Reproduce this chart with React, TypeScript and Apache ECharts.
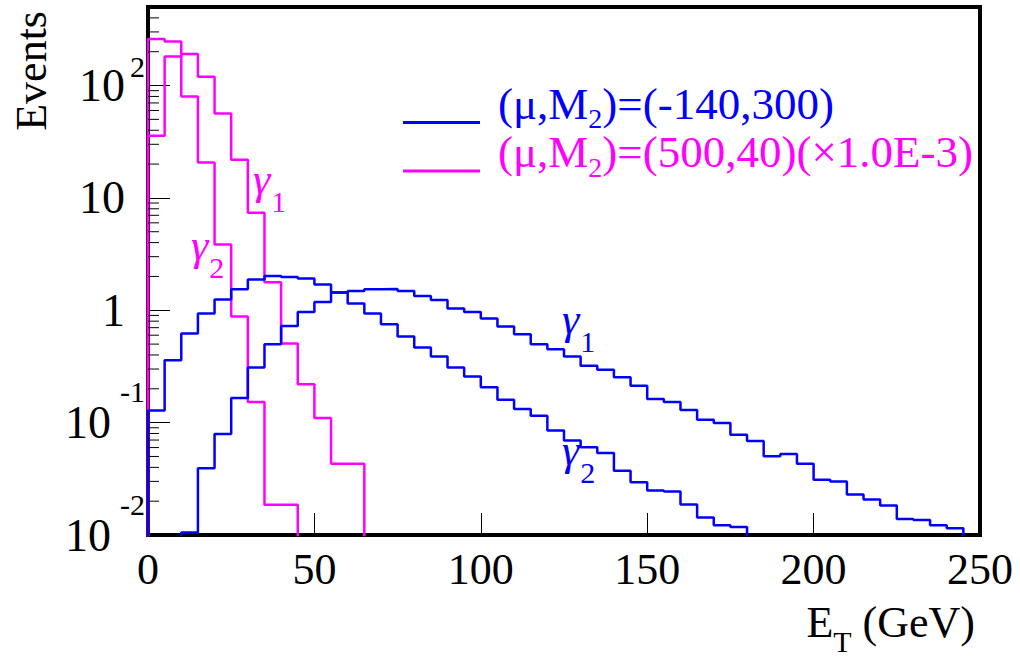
import React, { useEffect, useRef } from 'react';
import * as echarts from 'echarts';

// ---------------- data ----------------
const BIN_WIDTH = 5; // GeV
const FLOOR = 1e-4; // empty bins drawn below the visible range of the log axis

const X_MIN = 0;
const X_MAX = 250;
const X_INTERVAL = 50;
const Y_MIN = 0.01;
const Y_MAX = 500;

const BLUE_NAME = '(μ,M2)=(-140,300)';
const MAGENTA_NAME = '(μ,M2)=(500,40)(×1.0E-3)';

// bin contents, first bin starts at 0 GeV, 5 GeV bins
const blueGamma1 = [
  0, 0, 0.0105, 0.0393, 0.0793, 0.166, 0.31, 0.499, 0.726, 0.966,
  1.185, 1.436, 1.483, 1.536, 1.55, 1.483, 1.339, 1.234, 1.035, 0.966,
  0.844, 0.717, 0.612, 0.499, 0.451, 0.388, 0.32, 0.295, 0.253, 0.213,
  0.162, 0.1525, 0.1295, 0.106, 0.0993, 0.0782, 0.0687, 0.0502, 0.0527, 0.043,
  0.031, 0.0299, 0.0229, 0.0207, 0.0183, 0.0139, 0.0136, 0.0122, 0.0115,
];
const blueGamma2 = [
  0.128, 0.36, 0.62, 0.935, 1.25, 1.54, 1.88, 2.02, 1.98, 1.92,
  1.7, 1.44, 1.15, 0.935, 0.751, 0.584, 0.467, 0.388, 0.31, 0.258,
  0.206, 0.16, 0.132, 0.115, 0.0849, 0.0692, 0.0604, 0.0538, 0.0374, 0.0295,
  0.0249, 0.0244, 0.0187, 0.0143, 0.0122, 0.0118,
];
const magentaGamma1 = [35.8, 181, 191, 120, 56.4, 21.9, 7.37, 1.78, 0.506, 0.22, 0.11, 0.043, 0.043];
const magentaGamma2 = [260, 246, 80, 20.7, 3.85, 0.88, 0.153, 0.0186, 0.0186];

const minorMultipliers = [2, 3, 4, 5, 6, 7, 8, 9];
const decades = [-2, -1, 0, 1, 2];

// ---------------- styles ----------------
const FONT = '"Liberation Serif", "Times New Roman", serif';
const BLUE = '#0000ff';
const MAGENTA = '#ff00ff';

function histPoints(values: number[]): [number, number][] {
  const pts: [number, number][] = [[0, FLOOR]];
  values.forEach((v, i) => pts.push([i * BIN_WIDTH, v > 0 ? v : FLOOR]));
  const end = values.length * BIN_WIDTH;
  const last = values[values.length - 1];
  pts.push([end, last > 0 ? last : FLOOR]);
  pts.push([end, FLOOR]);
  return pts;
}

function minorTickValues(): number[] {
  const out: number[] = [];
  decades.forEach((d) => {
    minorMultipliers.forEach((m) => {
      const v = m * Math.pow(10, d);
      if (v < Y_MAX) out.push(v);
    });
  });
  return out;
}

function gammaLabel(x: number, y: number, sub: string, color: string) {
  return {
    type: 'text',
    x,
    y,
    silent: true,
    style: {
      text: `{g|γ}{s|${sub}}`,
      fill: color,
      verticalAlign: 'middle',
      align: 'left',
      fontFamily: FONT,
      fontSize: 44,
      rich: {
        g: { fontSize: 44, fontFamily: FONT, fontStyle: 'italic', fill: color },
        s: { fontSize: 30, fontFamily: FONT, fill: color, padding: [44, 0, 0, 1] },
      },
    },
  };
}

function legendRich(color: string, prefix: string) {
  return {
    [prefix + 't0']: { fontSize: 45, fontFamily: FONT, color, padding: [0, 0, 38, 13] },
    [prefix + 't']: { fontSize: 45, fontFamily: FONT, color, padding: [0, 0, 38, 0] },
    [prefix + 's']: { fontSize: 28, fontFamily: FONT, color, padding: [28, 0, 36, 0] },
  };
}

export default function App() {
  const ref = useRef<HTMLDivElement>(null);

  useEffect(() => {
    if (!ref.current) return;
    const chart = echarts.init(ref.current, null, { renderer: 'svg' });

    const option: any = {
      animation: false,
      backgroundColor: '#ffffff',
      grid: {
        left: 148,
        right: 40,
        top: 7,
        bottom: 128,
        show: true,
        borderColor: '#000',
        borderWidth: 4,
        backgroundColor: 'transparent',
        containLabel: false,
        outerBoundsMode: 'none',
      },
      legend: {
        left: 398,
        top: 76,
        orient: 'vertical',
        itemGap: -3,
        itemWidth: 77,
        itemHeight: 3,
        icon: 'rect',
        selectedMode: false,
        data: [BLUE_NAME, MAGENTA_NAME],
        formatter: (name: string) => {
          const p = name === BLUE_NAME ? 'b' : 'm';
          const idx = name.indexOf('M2');
          return `{${p}t0|${name.slice(0, idx + 1)}}{${p}s|2}{${p}t|${name.slice(idx + 2)}}`;
        },
        textStyle: {
          fontSize: 45,
          fontFamily: FONT,
          rich: { ...legendRich(BLUE, 'b'), ...legendRich(MAGENTA, 'm') },
        },
      },
      xAxis: {
        type: 'value',
        min: X_MIN,
        max: X_MAX,
        interval: X_INTERVAL,
        axisLine: { show: true, lineStyle: { color: '#000', width: 4 } },
        axisTick: { show: true, inside: true, length: 22, lineStyle: { color: '#000', width: 1 } },
        splitLine: { show: false },
        axisLabel: { show: true, margin: 12, color: '#000', fontSize: 44, fontFamily: FONT },
        name: '{e|E}{s|T}{e| (GeV)}',
        nameLocation: 'end',
        nameGap: -5,
        nameTextStyle: {
          align: 'right',
          verticalAlign: 'top',
          padding: [53, 0, 0, 0],
          fontFamily: FONT,
          fontSize: 44,
          color: '#000',
          rich: {
            e: { fontSize: 44, fontFamily: FONT, color: '#000' },
            s: { fontSize: 30, fontFamily: FONT, color: '#000', padding: [38, 0, 0, 0] },
          },
        },
      },
      yAxis: {
        type: 'log',
        logBase: 10,
        min: Y_MIN,
        max: Y_MAX,
        axisLine: { show: true, lineStyle: { color: '#000', width: 4 } },
        axisTick: { show: true, inside: true, length: 22, lineStyle: { color: '#000', width: 1 } },
        splitLine: { show: false },
        minorTick: { show: false },
        axisLabel: {
          show: true,
          margin: 3,
          color: '#000',
          fontFamily: FONT,
          fontSize: 46,
          showMaxLabel: false,
          formatter: (v: number) => {
            const lg = Math.log10(v);
            const e = Math.round(lg);
            if (Math.abs(lg - e) > 1e-6) return '';
            if (e === 0) return '{p|1}';
            if (e === 1) return '{p|10}';
            if (e > 1) return `{b|10}{ep|${e}}`;
            return `{b|10}{en|${e}}`;
          },
          rich: {
            b: { fontSize: 46, fontFamily: FONT, color: '#000' },
            p: { fontSize: 46, fontFamily: FONT, color: '#000', padding: [0, 20, 0, 0] },
            ep: { fontSize: 30, fontFamily: FONT, color: '#000', padding: [0, 0, 38, 5] },
            en: { fontSize: 30, fontFamily: FONT, color: '#000', padding: [0, 0, 62, 9] },
          },
        },
        name: 'Events',
        nameLocation: 'end',
        nameRotate: 90,
        nameGap: 0,
        nameTextStyle: {
          align: 'right',
          verticalAlign: 'bottom',
          padding: [0, 4, 95, 0],
          fontFamily: FONT,
          fontSize: 44,
          color: '#000',
        },
      },
      series: [
        {
          type: 'line',
          name: MAGENTA_NAME,
          data: histPoints(magentaGamma2),
          step: 'end',
          symbol: 'none',
          silent: true,
          color: MAGENTA,
          lineStyle: { color: MAGENTA, width: 2.5 },
          itemStyle: { color: MAGENTA },
          z: 3,
        },
        {
          type: 'line',
          name: MAGENTA_NAME,
          data: histPoints(magentaGamma1),
          step: 'end',
          symbol: 'none',
          silent: true,
          color: MAGENTA,
          lineStyle: { color: MAGENTA, width: 2.5 },
          itemStyle: { color: MAGENTA },
          z: 3,
        },
        {
          type: 'line',
          name: BLUE_NAME,
          data: histPoints(blueGamma2),
          step: 'end',
          symbol: 'none',
          silent: true,
          color: BLUE,
          lineStyle: { color: BLUE, width: 2.5 },
          itemStyle: { color: BLUE },
          z: 4,
        },
        {
          type: 'line',
          name: BLUE_NAME,
          data: histPoints(blueGamma1),
          step: 'end',
          symbol: 'none',
          silent: true,
          color: BLUE,
          lineStyle: { color: BLUE, width: 2.5 },
          itemStyle: { color: BLUE },
          z: 4,
        },
        {
          type: 'custom',
          name: 'minorTicks',
          silent: true,
          clip: false,
          z: 5,
          data: minorTickValues().map((v) => [X_MIN, v]),
          renderItem: (_params: any, api: any) => {
            const p = api.coord([X_MIN, api.value(1)]);
            return {
              type: 'line',
              shape: { x1: p[0], y1: p[1], x2: p[0] + 11, y2: p[1] },
              style: { stroke: '#000', lineWidth: 1 },
            };
          },
        },
      ],
      graphic: [
        gammaLabel(253, 179, '1', MAGENTA),
        gammaLabel(191, 245, '2', MAGENTA),
        gammaLabel(562, 319, '1', BLUE),
        gammaLabel(562, 450, '2', BLUE),
      ],
    };

    chart.setOption(option);
    return () => {
      chart.dispose();
    };
  }, []);

  return (
    <div
      ref={ref}
      style={{ position: 'absolute', left: 0, top: 0, width: 1020, height: 663, background: '#fff' }}
    />
  );
}
